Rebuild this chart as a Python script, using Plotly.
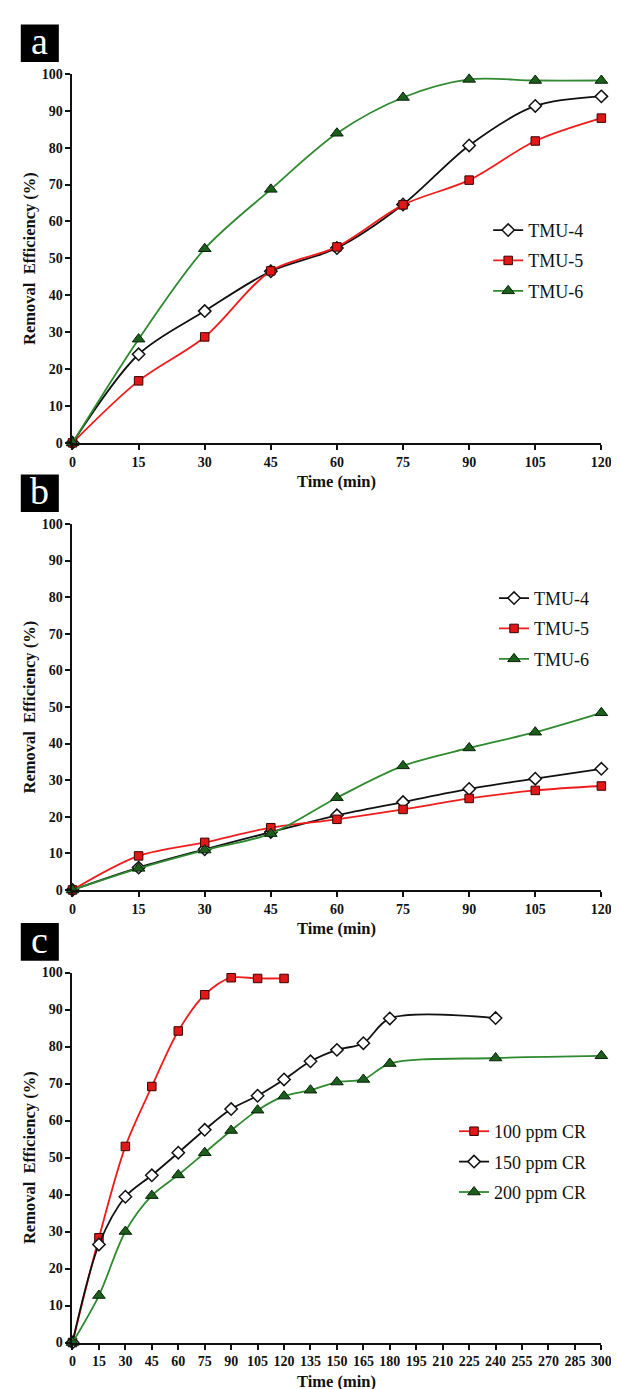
import plotly.graph_objects as go

# ---------------- data ----------------
time_ab = [0, 15, 30, 45, 60, 75, 90, 105, 120]
a_tmu4 = [0, 24.0, 35.7, 46.5, 52.8, 64.6, 80.6, 91.3, 93.9]
a_tmu5 = [0, 16.8, 28.7, 46.6, 53.1, 64.5, 71.2, 81.8, 88.0]
a_tmu6 = [0, 28.1, 52.6, 68.7, 83.9, 93.6, 98.5, 98.2, 98.2]

b_tmu4 = [0, 6.1, 11.1, 15.8, 20.4, 24.0, 27.6, 30.4, 33.1]
b_tmu5 = [0, 9.3, 13.0, 17.0, 19.3, 22.0, 25.0, 27.2, 28.4]
b_tmu6 = [0, 5.9, 10.9, 15.4, 25.2, 33.9, 38.8, 43.1, 48.4]

c_time_100 = [0, 15, 30, 45, 60, 75, 90, 105, 120]
c_100 = [0, 28.3, 53.0, 69.2, 84.2, 94.0, 98.6, 98.4, 98.4]
c_time_150 = [0, 15, 30, 45, 60, 75, 90, 105, 120, 135, 150, 165, 180, 240]
c_150 = [0, 26.5, 39.4, 45.2, 51.3, 57.5, 63.1, 66.7, 71.1, 76.0, 79.1, 80.9, 87.6, 87.7]
c_time_200 = [0, 15, 30, 45, 60, 75, 90, 105, 120, 135, 150, 165, 180, 240, 300]
c_200 = [0, 12.7, 30.0, 39.7, 45.3, 51.3, 57.3, 62.8, 66.6, 68.2, 70.4, 71.1, 75.4, 76.9, 77.5]

names_ab = ["TMU-4", "TMU-5", "TMU-6"]
names_c = ["100 ppm CR", "150 ppm CR", "200 ppm CR"]
ticks_ab = list(range(0, 121, 15))
ticks_c = list(range(0, 301, 15))
ticks_y = list(range(0, 101, 10))
panel_labels = ["a", "b", "c"]

# ---------------- styles ----------------
W, H = 619, 1389
SERIF = "Liberation Serif, Times New Roman, serif"
BLACK = "#111111"
RED_LINE = "#f01c1c"
RED_FILL = "#e01818"
GREEN_LINE = "#2f8a2f"
GREEN_FILL = "#1c5e1c"

sty = {
    "diamond": dict(line=dict(color=BLACK, width=1.8),
                    marker=dict(symbol="diamond", size=9.5, color="white",
                                line=dict(color=BLACK, width=1.5))),
    "square": dict(line=dict(color=RED_LINE, width=1.8),
                   marker=dict(symbol="square", size=8.5, color=RED_FILL,
                               line=dict(color="#3a0000", width=1))),
    "triangle": dict(line=dict(color=GREEN_LINE, width=1.8),
                     marker=dict(symbol="triangle-up", size=11, color=GREEN_FILL,
                                 line=dict(color="#062006", width=1))),
}

def px_x(p):
    return p / W

def px_y(p):
    return 1 - p / H

# pixel geometry: (y of 0, y of 100)
panels = [(432.5, 59.5), (884.5, 514.5), (1342.0, 968.0)]
x0px, x1px = 62, 604

fig = go.Figure()

def add(xs, ys, name, kind, axis_idx, legend):
    s = sty[kind]
    fig.add_trace(go.Scatter(
        x=xs, y=ys, name=name, mode="lines+markers",
        line=dict(shape="spline", smoothing=0.9, **s["line"]),
        marker=s["marker"], cliponaxis=False,
        xaxis="x" if axis_idx == 1 else f"x{axis_idx}",
        yaxis="y" if axis_idx == 1 else f"y{axis_idx}",
        legend=legend, legendgroup=f"{legend}-{name}",
    ))

add(time_ab, a_tmu4, names_ab[0], "diamond", 1, "legend")
add(time_ab, a_tmu5, names_ab[1], "square", 1, "legend")
add(time_ab, a_tmu6, names_ab[2], "triangle", 1, "legend")

add(time_ab, b_tmu4, names_ab[0], "diamond", 2, "legend2")
add(time_ab, b_tmu5, names_ab[1], "square", 2, "legend2")
add(time_ab, b_tmu6, names_ab[2], "triangle", 2, "legend2")

add(c_time_100, c_100, names_c[0], "square", 3, "legend3")
add(c_time_150, c_150, names_c[1], "diamond", 3, "legend3")
add(c_time_200, c_200, names_c[2], "triangle", 3, "legend3")

tickfont = dict(family=SERIF, size=14, color=BLACK, weight="bold")
titlefont = dict(family=SERIF, size=16.5, color=BLACK, weight="bold")

layout = dict(
    width=W, height=H, margin=dict(l=0, r=0, t=0, b=0),
    paper_bgcolor="white", plot_bgcolor="white", showlegend=True,
)

annotations = []
shapes = []
for i, (y0p, y100p) in enumerate(panels, start=1):
    xs = "" if i == 1 else str(i)
    xtv = ticks_c if i == 3 else ticks_ab
    xr = [0, 300] if i == 3 else [0, 120]
    layout[f"xaxis{xs}"] = dict(
        domain=[px_x(x0px), px_x(x1px)], range=xr, anchor=f"y{xs}",
        tickmode="array", tickvals=xtv, ticktext=[str(v) for v in xtv],
        showline=True, linecolor=BLACK, linewidth=2, ticks="outside",
        ticklen=5, tickwidth=1.5, tickcolor=BLACK, showgrid=False,
        zeroline=False, tickfont=tickfont, fixedrange=True,
    )
    layout[f"yaxis{xs}"] = dict(
        domain=[px_y(y0p), px_y(y100p)], range=[0, 100], anchor=f"x{xs}",
        tickmode="array", tickvals=ticks_y, ticktext=[str(v) for v in ticks_y],
        showline=True, linecolor=BLACK, linewidth=2, ticks="outside",
        ticklen=5, tickwidth=1.5, tickcolor=BLACK, showgrid=False,
        zeroline=False, tickfont=tickfont, fixedrange=True,
    )
    # axis titles
    annotations.append(dict(
        text="Time (min)", xref="paper", yref="paper",
        x=px_x((x0px + x1px) / 2), y=px_y(y0p + 39), xanchor="center",
        yanchor="middle", showarrow=False, font=titlefont))
    annotations.append(dict(
        text="Removal  Efficiency (%)", xref="paper", yref="paper",
        x=px_x(18), y=px_y((y0p + y100p) / 2), xanchor="center",
        yanchor="middle", textangle=-90, showarrow=False, font=titlefont))
    # panel label box
    top = y100p - 50
    shapes.append(dict(type="rect", xref="paper", yref="paper",
                       x0=px_x(9), x1=px_x(48), y0=px_y(top), y1=px_y(top + 38),
                       fillcolor="black", line=dict(width=0), layer="above"))
    annotations.append(dict(
        text=panel_labels[i - 1], xref="paper", yref="paper",
        x=px_x(28.5), y=px_y(top + 17), xanchor="center", yanchor="middle",
        showarrow=False, font=dict(family=SERIF, size=38, color="white")))

legend_common = dict(
    xanchor="left", yanchor="top", bgcolor="rgba(0,0,0,0)",
    font=dict(family=SERIF, size=18, color=BLACK), itemwidth=30,
    tracegroupgap=4, itemclick=False, itemdoubleclick=False,
)
layout["legend"] = dict(x=px_x(488), y=px_y(199), **legend_common)
layout["legend2"] = dict(x=px_x(494), y=px_y(571), **legend_common)
layout["legend3"] = dict(x=px_x(453), y=px_y(1110), **legend_common)

layout["annotations"] = annotations
layout["shapes"] = shapes
fig.update_layout(**layout)

fig.write_html("out.html")
